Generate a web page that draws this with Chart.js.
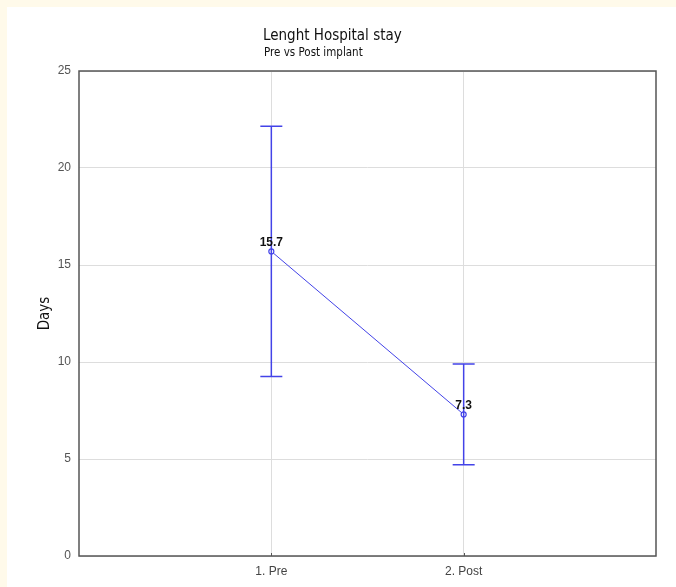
<!DOCTYPE html>
<html>
<head>
<meta charset="utf-8">
<script src="https://cdn.jsdelivr.net/npm/chart.js@4"></script>
<style>
  html, body { margin: 0; padding: 0; background: #ffffff; }
  canvas { display: block; }
</style>
</head>
<body>
<canvas id="chart" width="676" height="587"></canvas>
<script>
// Length of hospital stay: mean with confidence interval, before and after implant
const categories = ['1. Pre', '2. Post'];
const means = [15.7, 7.3];
const lowerCI = [9.25, 4.7];
const upperCI = [22.15, 9.9];
const yTicks = [0, 5, 10, 15, 20, 25];

const titleText = 'Lenght Hospital stay';
const subtitleText = 'Pre vs Post implant';
const yAxisTitle = 'Days';

const BLUE = '#4343e8';

const points = means.map((v, i) => ({ x: i + 1, y: v }));

// Page frame, headings and axis title
const framePlugin = {
  id: 'frame',
  beforeDraw(chart) {
    const { ctx, width, height } = chart;
    ctx.save();
    ctx.fillStyle = '#fffaea';
    ctx.fillRect(0, 0, width, height);
    ctx.fillStyle = '#ffffff';
    ctx.fillRect(7, 7, width - 7, height - 7);
    ctx.restore();
  },
  afterDraw(chart) {
    const { ctx, chartArea: a } = chart;
    ctx.save();
    ctx.fillStyle = '#111111';
    ctx.textAlign = 'left';
    ctx.textBaseline = 'alphabetic';
    ctx.font = '15px "DejaVu Sans Condensed", "Liberation Sans", sans-serif';
    ctx.fillText(titleText, 263, 40);
    ctx.font = '11.5px "DejaVu Sans Condensed", "Liberation Sans", sans-serif';
    ctx.fillText(subtitleText, 264, 56);

    ctx.translate(45, (a.top + a.bottom) / 2);
    ctx.rotate(-Math.PI / 2);
    ctx.textAlign = 'center';
    ctx.textBaseline = 'middle';
    ctx.font = '15px "DejaVu Sans Condensed", "Liberation Sans", sans-serif';
    ctx.fillText(yAxisTitle, 0, 0);
    ctx.restore();

    // plot frame
    ctx.save();
    ctx.strokeStyle = '#555555';
    ctx.lineWidth = 1.5;
    ctx.strokeRect(a.left, a.top, a.right - a.left, a.bottom - a.top);
    // small inward ticks on the category axis
    const xs = chart.scales.x;
    ctx.lineWidth = 1;
    categories.forEach((c, i) => {
      const px = Math.round(xs.getPixelForValue(i + 1)) + 0.5;
      ctx.beginPath();
      ctx.moveTo(px, a.bottom);
      ctx.lineTo(px, a.bottom - 3);
      ctx.stroke();
    });
    ctx.restore();
  }
};

// Confidence interval whiskers and value labels
const errorBarPlugin = {
  id: 'errorBars',
  afterDatasetsDraw(chart) {
    const { ctx } = chart;
    const xs = chart.scales.x, ys = chart.scales.y;
    ctx.save();
    ctx.strokeStyle = BLUE;
    ctx.lineWidth = 1.5;
    means.forEach((m, i) => {
      const px = xs.getPixelForValue(i + 1);
      const top = ys.getPixelForValue(upperCI[i]);
      const bot = ys.getPixelForValue(lowerCI[i]);
      const half = 11;
      ctx.beginPath();
      ctx.moveTo(px, top);
      ctx.lineTo(px, bot);
      ctx.moveTo(px - half, top);
      ctx.lineTo(px + half, top);
      ctx.moveTo(px - half, bot);
      ctx.lineTo(px + half, bot);
      ctx.stroke();
    });
    ctx.fillStyle = '#111111';
    ctx.font = 'bold 12px "Liberation Sans", Arial, sans-serif';
    ctx.textAlign = 'center';
    ctx.textBaseline = 'bottom';
    means.forEach((m, i) => {
      const px = xs.getPixelForValue(i + 1);
      const py = ys.getPixelForValue(m);
      ctx.fillText(m.toFixed(1), px, py - 3);
    });
    ctx.restore();
  }
};

new Chart(document.getElementById('chart'), {
  type: 'scatter',
  data: {
    datasets: [{
      data: points,
      showLine: true,
      borderColor: BLUE,
      borderWidth: 1,
      pointRadius: 2.5,
      pointBorderWidth: 1.2,
      pointBackgroundColor: '#ffffff',
      pointBorderColor: BLUE
    }]
  },
  options: {
    responsive: false,
    animation: false,
    layout: { padding: { top: 71, right: 20, left: 0, bottom: 0 } },
    plugins: {
      legend: { display: false },
      tooltip: { enabled: false }
    },
    scales: {
      x: {
        type: 'linear',
        min: 0,
        max: 3,
        afterBuildTicks(scale) { scale.ticks = categories.map((c, i) => ({ value: i + 1 })); },
        afterFit(scale) { scale.height = 31; },
        grid: { color: '#dddddd', drawTicks: false },
        border: { display: false },
        ticks: {
          padding: 8,
          color: '#444444',
          font: { family: '"Liberation Sans", Arial, sans-serif', size: 12 },
          callback: (v) => categories[v - 1] || ''
        }
      },
      y: {
        min: 0,
        max: 25,
        afterBuildTicks(scale) { scale.ticks = yTicks.map(v => ({ value: v })); },
        afterFit(scale) { scale.width = 79; },
        grid: { color: '#dddddd', drawTicks: false },
        border: { display: false },
        ticks: {
          padding: 8,
          color: '#555555',
          font: { family: '"Liberation Sans", Arial, sans-serif', size: 12 }
        }
      }
    }
  },
  plugins: [framePlugin, errorBarPlugin]
});
</script>
</body>
</html>
